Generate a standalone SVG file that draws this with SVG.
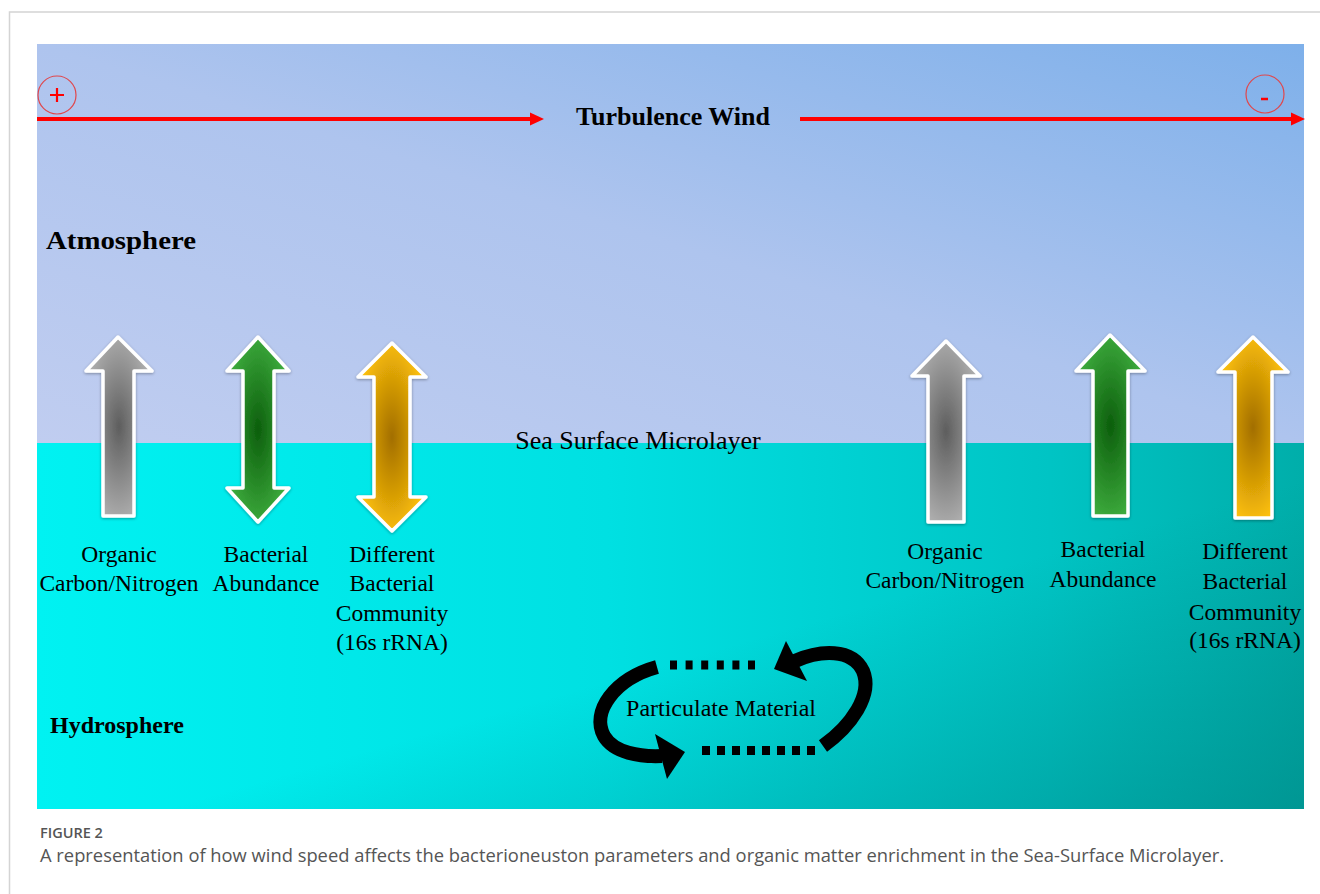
<svg xmlns="http://www.w3.org/2000/svg" width="1320" height="894" viewBox="0 0 1320 894">
  <defs>
    <linearGradient id="sky" x1="0" y1="1" x2="1" y2="0">
      <stop offset="0" stop-color="#c0cdf0"/>
      <stop offset="0.5" stop-color="#aec4ee"/>
      <stop offset="1" stop-color="#7eb0ea"/>
    </linearGradient>
    <linearGradient id="sea" x1="0" y1="0" x2="1" y2="0">
      <stop offset="0" stop-color="#00f2f2"/>
      <stop offset="0.45" stop-color="#00e0e2"/>
      <stop offset="0.8" stop-color="#00c4c4"/>
      <stop offset="1" stop-color="#00aeaa"/>
    </linearGradient>
    <linearGradient id="seaShade" x1="0" y1="0" x2="1" y2="1">
      <stop offset="0.55" stop-color="#007a78" stop-opacity="0"/>
      <stop offset="1" stop-color="#007a78" stop-opacity="0.45"/>
    </linearGradient>
    <radialGradient id="gGray" cx="0.5" cy="0.5" r="0.55">
      <stop offset="0" stop-color="#5e5e5e"/>
      <stop offset="1" stop-color="#b0b0b0"/>
    </radialGradient>
    <radialGradient id="gGreen" cx="0.5" cy="0.5" r="0.55">
      <stop offset="0" stop-color="#0c5e0c"/>
      <stop offset="1" stop-color="#3fae3f"/>
    </radialGradient>
    <radialGradient id="gGold" cx="0.5" cy="0.5" r="0.55">
      <stop offset="0" stop-color="#a26e00"/>
      <stop offset="1" stop-color="#ffc20a"/>
    </radialGradient>
    <filter id="sh" x="-20%" y="-10%" width="140%" height="120%">
      <feDropShadow dx="0" dy="1" stdDeviation="1.5" flood-color="#000" flood-opacity="0.35"/>
    </filter>
  </defs>
  <style>
    .lbl { font-family: "Liberation Serif", "Times New Roman", serif; font-size: 23.5px; fill: #000; text-anchor: middle; }
    .bold { font-family: "Liberation Serif", "Times New Roman", serif; font-weight: bold; fill: #000; }
    .arr { stroke: #ffffff; stroke-width: 3.5; stroke-linejoin: round; filter: url(#sh); }
    .red { stroke: #ff0000; stroke-width: 4; fill: none; }
    .circ { stroke: #e0474c; stroke-width: 1.2; fill: none; }
    .cap { font-family: "Open Sans", "Noto Sans", sans-serif; fill: #555555; }
    .curve { stroke: #000; stroke-width: 14; fill: none; }
    .dots { stroke: #000; stroke-width: 9; fill: none; }
  </style>

  <rect x="0" y="0" width="1320" height="894" fill="#ffffff"/>
  <path d="M9.5,894 V12 H1320" fill="none" stroke="#d4d4d4" stroke-width="1.5"/>

  <g id="background">
    <rect x="37" y="44" width="1267" height="399" fill="url(#sky)"/>
    <rect x="37" y="443" width="1267" height="366" fill="url(#sea)"/>
    <rect x="37" y="443" width="1267" height="366" fill="url(#seaShade)"/>
  </g>

  <g id="wind">
    <circle cx="57" cy="95" r="19" class="circ"/>
    <path d="M50,95 H64 M57,88 V102" stroke="#ff0000" stroke-width="2.2"/>
    <circle cx="1265" cy="94" r="19" class="circ"/>
    <path d="M1261,99 H1268" stroke="#ff0000" stroke-width="2.5"/>
    <line x1="37" y1="119" x2="532" y2="119" class="red"/>
    <polygon points="530,112.5 544,119 530,125.5" fill="#ff0000"/>
    <line x1="800" y1="119" x2="1292" y2="119" class="red"/>
    <polygon points="1291,112.5 1305,119 1291,125.5" fill="#ff0000"/>
    <text x="673" y="125" class="bold" font-size="26" text-anchor="middle">Turbulence Wind</text>
  </g>

  <g id="layers">
    <text x="46" y="249" class="bold" font-size="25" textLength="150" lengthAdjust="spacingAndGlyphs">Atmosphere</text>
    <text x="50" y="733" class="bold" font-size="24">Hydrosphere</text>
    <text x="638" y="449" font-family="Liberation Serif, Times New Roman, serif" font-size="26" text-anchor="middle">Sea Surface Microlayer</text>
  </g>

  <g id="left-organic">
    <path class="arr" fill="url(#gGray)" d="M118,337 L152,371 L134,371 L134,516 L103,516 L103,371 L86,371 Z"/>
    <text class="lbl" x="119" y="562">Organic</text>
    <text class="lbl" x="119" y="591">Carbon/Nitrogen</text>
  </g>
  <g id="left-bacterial">
    <path class="arr" fill="url(#gGreen)" d="M258,337 L289,371 L274,371 L274,488 L289,488 L258,522 L227,488 L243,488 L243,371 L227,371 Z"/>
    <text class="lbl" x="266" y="562">Bacterial</text>
    <text class="lbl" x="266" y="591">Abundance</text>
  </g>
  <g id="left-community">
    <path class="arr" fill="url(#gGold)" d="M392,343 L426,377 L410,377 L410,497 L426,497 L392,531 L358,497 L374,497 L374,377 L358,377 Z"/>
    <text class="lbl" x="392" y="562">Different</text>
    <text class="lbl" x="392" y="591">Bacterial</text>
    <text class="lbl" x="392" y="621">Community</text>
    <text class="lbl" x="392" y="650">(16s rRNA)</text>
  </g>

  <g id="right-organic">
    <path class="arr" fill="url(#gGray)" d="M946,341 L980,376 L964,376 L964,522 L928,522 L928,376 L912,376 Z"/>
    <text class="lbl" x="945" y="559">Organic</text>
    <text class="lbl" x="945" y="588">Carbon/Nitrogen</text>
  </g>
  <g id="right-bacterial">
    <path class="arr" fill="url(#gGreen)" d="M1110,335 L1145,371 L1128,371 L1128,516 L1093,516 L1093,371 L1076,371 Z"/>
    <text class="lbl" x="1103" y="557">Bacterial</text>
    <text class="lbl" x="1103" y="587">Abundance</text>
  </g>
  <g id="right-community">
    <path class="arr" fill="url(#gGold)" d="M1253,337 L1288,372 L1272,372 L1272,518 L1235,518 L1235,372 L1218,372 Z"/>
    <text class="lbl" x="1245" y="559">Different</text>
    <text class="lbl" x="1245" y="589">Bacterial</text>
    <text class="lbl" x="1245" y="620">Community</text>
    <text class="lbl" x="1245" y="648">(16s rRNA)</text>
  </g>

  <g id="particulate">
    <text x="721" y="716" font-family="Liberation Serif, Times New Roman, serif" font-size="24" text-anchor="middle">Particulate Material</text>
  </g>

  <g id="connectors">
    <path class="curve" d="M657,667 C614,679 591,712 604,736 C614,753 640,757 662,756"/>
    <polygon points="655,734 685,752 667,779" fill="#000"/>
    <path class="curve" d="M823,746 C851,726 873,695 863,671 C852,648 820,650 795,661"/>
    <polygon points="774,669 786,641 807,681" fill="#000"/>
    <path class="dots" d="M670,665 H758" stroke-dasharray="7 8.6"/>
    <path class="dots" d="M702,750.5 H817" stroke-dasharray="8 7"/>
  </g>

  <g id="caption">
    <text x="40" y="838" class="cap" font-size="14.5" font-weight="600">FIGURE 2</text>
    <text x="40" y="862" class="cap" font-size="16" textLength="1184" lengthAdjust="spacingAndGlyphs" style="font-size:18px">A representation of how wind speed affects the bacterioneuston parameters and organic matter enrichment in the Sea-Surface Microlayer.</text>
  </g>
</svg>
